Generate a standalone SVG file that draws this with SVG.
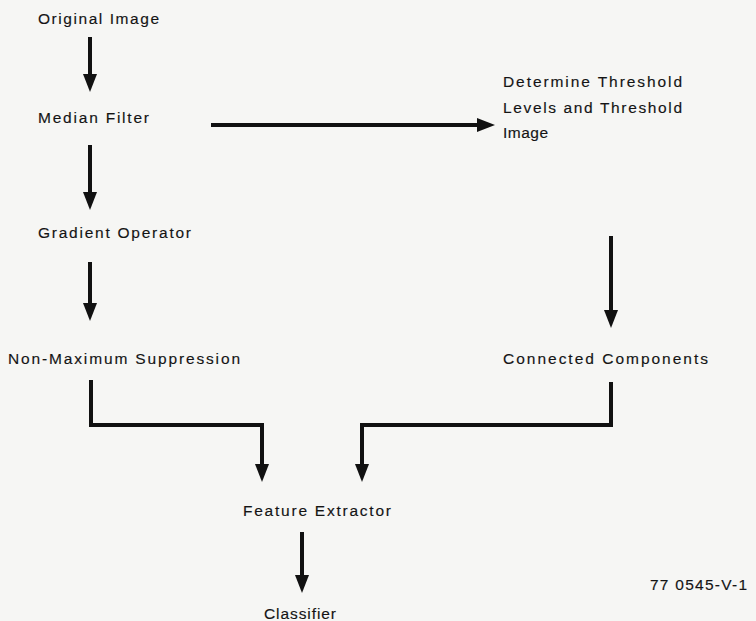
<svg xmlns="http://www.w3.org/2000/svg" width="756" height="621" viewBox="0 0 756 621">
<style>
text{font-family:"Liberation Sans",Arial,sans-serif;font-size:15.5px;fill:#141414;stroke:#141414;stroke-width:0.15;}
.c{fill:none;stroke:#111;stroke-width:4;}
</style>
<defs>
<marker id="ah" markerUnits="userSpaceOnUse" markerWidth="18" markerHeight="14" refX="6" refY="7" orient="auto">
<path d="M0,0 L18,7 L0,14 Z" fill="#111"/>
</marker>
</defs>
<rect width="756" height="621" fill="#f6f6f4"/>
<g id="connectors">
<line class="c" x1="90" y1="37" x2="90" y2="80" marker-end="url(#ah)"/>
<line class="c" x1="90" y1="145" x2="90" y2="198" marker-end="url(#ah)"/>
<line class="c" x1="90" y1="262" x2="90" y2="309" marker-end="url(#ah)"/>
<line class="c" x1="211" y1="125" x2="483" y2="125" marker-end="url(#ah)"/>
<line class="c" x1="611" y1="236" x2="611" y2="316" marker-end="url(#ah)"/>
<polyline class="c" points="91,380 91,425 262,425 262,470" marker-end="url(#ah)"/>
<polyline class="c" points="611,382 611,425 362,425 362,470" marker-end="url(#ah)"/>
<line class="c" x1="302" y1="532" x2="302" y2="581" marker-end="url(#ah)"/>
</g>
<g id="original"><text x="38" y="24" textLength="121" lengthAdjust="spacing">Original Image</text></g>
<g id="median"><text x="38" y="123" textLength="111" lengthAdjust="spacing">Median Filter</text></g>
<g id="gradient"><text x="38" y="238" textLength="153" lengthAdjust="spacing">Gradient Operator</text></g>
<g id="nms"><text x="8" y="364" textLength="232" lengthAdjust="spacing">Non-Maximum Suppression</text></g>
<g id="threshold">
<text x="503" y="87" textLength="179" lengthAdjust="spacing">Determine Threshold</text>
<text x="503" y="113" textLength="179" lengthAdjust="spacing">Levels and Threshold</text>
<text x="503" y="138" textLength="45" lengthAdjust="spacing">Image</text>
</g>
<g id="connected"><text x="503" y="364" textLength="205" lengthAdjust="spacing">Connected Components</text></g>
<g id="feature"><text x="243" y="516" textLength="148" lengthAdjust="spacing">Feature Extractor</text></g>
<g id="classifier"><text x="264" y="619" textLength="72" lengthAdjust="spacing">Classifier</text></g>
<g id="label"><text x="650" y="590" textLength="97" lengthAdjust="spacing">77 0545-V-1</text></g>
</svg>
